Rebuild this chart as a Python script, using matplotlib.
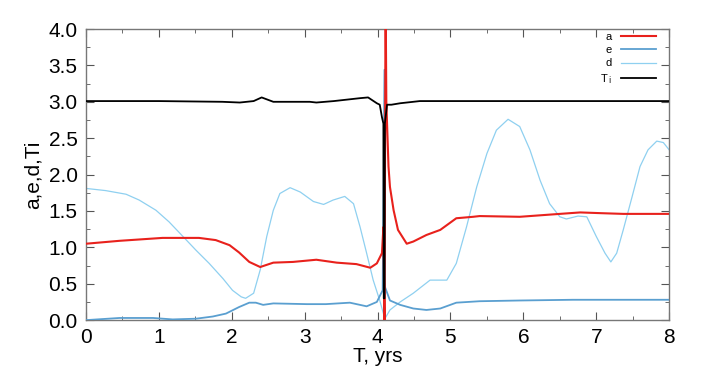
import matplotlib
matplotlib.use("Agg")
import matplotlib.pyplot as plt
from matplotlib.ticker import MultipleLocator

plt.rcParams['font.family'] = ['Liberation Sans', 'DejaVu Sans']

# a (red)
a_t = [0.0, 0.46, 1.05, 1.55, 1.78, 1.97, 2.10, 2.24, 2.39, 2.57, 2.84, 3.16, 3.44, 3.71, 3.90, 3.99, 4.06, 4.08,
       4.095, 4.11, 4.12, 4.15, 4.17, 4.22, 4.28, 4.40, 4.49, 4.67, 4.86, 5.08, 5.31, 5.40, 5.95, 6.50, 6.78, 7.06,
       7.37, 8.0]
a_v = [1.05, 1.09, 1.13, 1.13, 1.10, 1.03, 0.93, 0.80, 0.73, 0.79, 0.80, 0.83, 0.79, 0.77, 0.72, 0.78, 0.92, 1.28,
       0.00, 4.60, 3.00, 2.11, 1.83, 1.51, 1.24, 1.05, 1.08, 1.17, 1.24, 1.40, 1.42, 1.43, 1.42, 1.46, 1.48, 1.47,
       1.46, 1.46]

# e (medium blue)
e_t = [0.0, 0.46, 0.92, 1.19, 1.51, 1.74, 1.92, 2.10, 2.24, 2.33, 2.43, 2.57, 3.03, 3.29, 3.62, 3.85, 3.99, 4.07,
       4.095, 4.10, 4.17, 4.31, 4.49, 4.67, 4.86, 5.08, 5.40, 5.95, 6.68, 8.0]
e_v = [0.00, 0.03, 0.03, 0.01, 0.02, 0.05, 0.09, 0.18, 0.24, 0.24, 0.21, 0.23, 0.22, 0.22, 0.24, 0.19, 0.25, 0.41,
       3.44, 0.46, 0.27, 0.21, 0.16, 0.14, 0.16, 0.24, 0.26, 0.27, 0.28, 0.28]

# d (light blue)
d_t = [0.0, 0.27, 0.55, 0.73, 0.96, 1.14, 1.33, 1.51, 1.69, 1.88, 2.01, 2.13, 2.19, 2.30, 2.39, 2.48, 2.57, 2.66,
       2.80, 2.94, 3.12, 3.26, 3.39, 3.55, 3.67, 3.76, 3.85, 3.94, 4.03, 4.10, 4.17, 4.31, 4.49, 4.72, 4.95, 5.08,
       5.22, 5.36, 5.50, 5.63, 5.79, 5.95, 6.09, 6.23, 6.36, 6.50, 6.59, 6.75, 6.87, 7.00, 7.12, 7.20, 7.28, 7.37,
       7.49, 7.60, 7.71, 7.83, 7.92, 8.0]
d_v = [1.81, 1.78, 1.73, 1.65, 1.51, 1.35, 1.15, 0.96, 0.78, 0.57, 0.41, 0.32, 0.30, 0.37, 0.69, 1.15, 1.51, 1.74,
       1.82, 1.76, 1.63, 1.59, 1.65, 1.70, 1.60, 1.28, 0.92, 0.55, 0.27, 0.02, 0.14, 0.25, 0.37, 0.55, 0.55, 0.78,
       1.28, 1.83, 2.29, 2.61, 2.76, 2.66, 2.34, 1.92, 1.60, 1.42, 1.39, 1.43, 1.42, 1.15, 0.92, 0.80, 0.92, 1.24,
       1.69, 2.11, 2.34, 2.46, 2.44, 2.34]

# Ti (black)
T_t = [0.0, 1.0, 1.87, 2.11, 2.30, 2.41, 2.57, 3.07, 3.16, 3.40, 3.76, 3.87, 3.99, 4.03, 4.06, 4.08, 4.085, 4.095,
       4.10, 4.13, 4.19, 4.31, 4.58, 8.0]
T_v = [3.01, 3.01, 3.00, 2.99, 3.01, 3.06, 3.00, 3.00, 2.99, 3.01, 3.05, 3.06, 2.98, 2.96, 2.79, 2.70, 0.30, 0.30,
       2.70, 2.96, 2.96, 2.98, 3.01, 3.01]

fig = plt.figure(figsize=(7.2, 3.89), dpi=100)
ax = fig.add_axes([0.1194, 0.177, 0.8100, 0.7484])

ax.plot(a_t, a_v, color='#e8211c', lw=1.5, label='a', zorder=4)
ax.plot(e_t, e_v, color='#5a9fd0', lw=1.3, label='e', zorder=3)
ax.plot(d_t, d_v, color='#8fd0f0', lw=0.9, label='d', zorder=2)
ax.plot(T_t, T_v, color='black', lw=1.3, label='T$_{\\,\\mathrm{i}}$', zorder=5)

ax.set_xlim(0, 8)
ax.set_ylim(0, 4)
ax.xaxis.set_major_locator(MultipleLocator(1))
ax.xaxis.set_minor_locator(MultipleLocator(0.5))
ax.yaxis.set_major_locator(MultipleLocator(0.5))
ax.yaxis.set_minor_locator(MultipleLocator(0.25))
ax.yaxis.set_major_formatter(matplotlib.ticker.FormatStrFormatter('%.1f'))
ax.tick_params(which='both', direction='in', top=True, right=True, color='#555555')
ax.tick_params(which='major', length=6, labelsize=15, pad=6)
ax.tick_params(which='minor', length=3)
for s in ax.spines.values():
    s.set_color('#777777')
    s.set_linewidth(1.0)

ax.set_xlabel('T, yrs', fontsize=15, labelpad=0)
ax.set_ylabel('a,e,d,Ti', fontsize=15, labelpad=4)

leg = ax.legend(loc='upper right', bbox_to_anchor=(0.995, 1.025), frameon=False, markerfirst=False,
                fontsize=8, handlelength=3.2, labelspacing=0.3, handletextpad=0.8)

fig.savefig('out.png', dpi=100)
